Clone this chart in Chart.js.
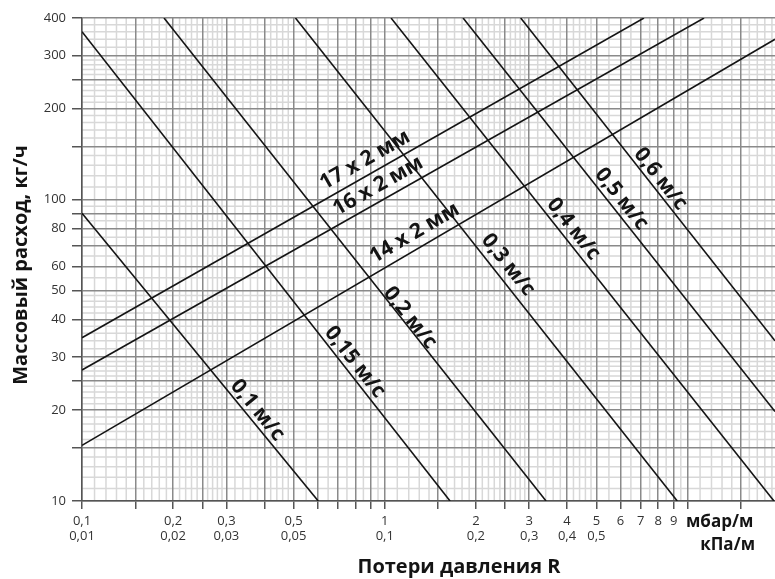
<!DOCTYPE html>
<html lang="ru">
<head>
<meta charset="utf-8">
<title>Потери давления R</title>
<script src="https://cdn.jsdelivr.net/npm/chart.js@4.4.1/dist/chart.umd.min.js"></script>
<style>
  html, body { margin: 0; padding: 0; background: #fff; }
  #wrap { width: 775px; height: 579px; }
</style>
</head>
<body>
<div id="wrap"><canvas id="chartCanvas" width="775" height="579"></canvas></div>
<script>
// --- data (R in mbar/m, mass flow in kg/h) ---
const pipeNames = ["17 x 2 мм", "16 x 2 мм", "14 x 2 мм"];
const pipeR = [[0.1, 7.18], [0.1, 11.34], [0.1, 19.45]];
const pipeM = [[34.8, 400], [27.2, 400], [15.3, 340]];

const speedNames = ["0,1 м/с", "0,15 м/с", "0,2 м/с", "0,3 м/с", "0,4 м/с", "0,5 м/с", "0,6 м/с"];
const speedR = [[0.1, 0.603], [0.1, 1.643], [0.1866, 3.41], [0.507, 9.25], [1.049, 19.3], [1.814, 19.45], [2.812, 19.45]];
const speedM = [[90, 10], [360, 10], [400, 10], [400, 10], [400, 10], [400, 19.8], [400, 34]];

// where the line captions sit (centre, in axis units)
const pipeLabelR = [0.861, 0.95, 1.254];
const pipeLabelM = [135.2, 110.9, 77.4];
const speedLabelR = [0.38, 0.797, 1.212, 2.553, 4.203, 6.053, 8.144];
const speedLabelM = [20.0, 28.9, 40.5, 60.7, 79.8, 100.4, 117.0];

// axes
const xMin = 0.1, xMax = 19.45;
const yMin = 10, yMax = 400;
const xMajor = [0.1, 0.15, 0.2, 0.25, 0.3, 0.4, 0.5, 0.6, 0.7, 0.8, 0.9, 1, 1.5, 2, 2.5, 3, 4, 5, 6, 7, 8, 9, 10, 15];
const yMajor = [10, 15, 20, 25, 30, 40, 50, 60, 70, 80, 90, 100, 150, 200, 250, 300, 400];
const xLabelVals = [0.1, 0.2, 0.3, 0.5, 1, 2, 3, 4, 5, 6, 7, 8, 9];
const mbarLabels = ["0,1", "0,2", "0,3", "0,5", "1", "2", "3", "4", "5", "6", "7", "8", "9"];
const kpaLabels = ["0,01", "0,02", "0,03", "0,05", "0,1", "0,2", "0,3", "0,4", "0,5", "", "", "", ""];
const yLabelVals = [10, 20, 30, 40, 50, 60, 80, 100, 200, 300, 400];

// light graph-paper lines inside every decade
const minorMantissa = [1.1, 1.2, 1.3, 1.4, 1.6, 1.7, 1.8, 1.9, 2.1, 2.2, 2.3, 2.4, 2.6, 2.7, 2.8, 2.9,
  3.2, 3.4, 3.6, 3.8, 4.2, 4.4, 4.6, 4.8, 5.5, 6.5, 7.5, 8.5, 9.5];
const xDecades = [0.1, 1, 10];
const yDecades = [10, 100];
const xMinor = xDecades.flatMap(d => minorMantissa.map(m => +(m * d).toFixed(4)));
const yMinor = yDecades.flatMap(d => minorMantissa.map(m => +(m * d).toFixed(4)));

const INK = "#141414";
const FONT = "'Open Sans', 'DejaVu Sans', sans-serif";

const datasets = [];
pipeNames.forEach((n, i) => datasets.push({
  label: n,
  data: pipeR[i].map((r, k) => ({ x: r, y: pipeM[i][k] })),
  caption: { x: pipeLabelR[i], y: pipeLabelM[i] }
}));
speedNames.forEach((n, i) => datasets.push({
  label: n,
  data: speedR[i].map((r, k) => ({ x: r, y: speedM[i][k] })),
  caption: { x: speedLabelR[i], y: speedLabelM[i] }
}));
datasets.forEach(d => Object.assign(d, {
  showLine: true, borderColor: INK, borderWidth: 1.6, pointRadius: 0, fill: false
}));

// minor grid under the major one
const minorGrid = {
  id: "minorGrid",
  beforeDraw(chart) {
    const { ctx, chartArea: a, scales: { x, y } } = chart;
    ctx.save();
    ctx.strokeStyle = "#d8d8d8";
    ctx.lineWidth = 1.5;
    ctx.beginPath();
    xMinor.filter(v => v > xMin && v < xMax).forEach(v => {
      const px = x.getPixelForValue(v);
      ctx.moveTo(px, a.top); ctx.lineTo(px, a.bottom);
    });
    yMinor.filter(v => v > yMin && v < yMax).forEach(v => {
      const py = y.getPixelForValue(v);
      ctx.moveTo(a.left, py); ctx.lineTo(a.right, py);
    });
    ctx.stroke();
    ctx.restore();
  }
};

// captions along the lines
const lineCaptions = {
  id: "lineCaptions",
  afterDatasetsDraw(chart) {
    const { ctx, scales: { x, y } } = chart;
    ctx.save();
    ctx.fillStyle = INK;
    ctx.font = "bold 21px " + FONT;
    ctx.textAlign = "center";
    ctx.textBaseline = "middle";
    chart.data.datasets.forEach(ds => {
      const p0 = ds.data[0], p1 = ds.data[ds.data.length - 1];
      const ang = Math.atan2(y.getPixelForValue(p1.y) - y.getPixelForValue(p0.y),
                             x.getPixelForValue(p1.x) - x.getPixelForValue(p0.x));
      const rot = ang > Math.PI / 2 ? ang - Math.PI : (ang < -Math.PI / 2 ? ang + Math.PI : ang);
      ctx.save();
      ctx.translate(x.getPixelForValue(ds.caption.x), y.getPixelForValue(ds.caption.y));
      ctx.rotate(rot);
      ctx.fillText(ds.label, 0, 0);
      ctx.restore();
    });
    ctx.restore();
  }
};

// units and axis titles
const axisTexts = {
  id: "axisTexts",
  afterDraw(chart) {
    const { ctx } = chart;
    ctx.save();
    ctx.fillStyle = INK;
    ctx.textBaseline = "middle";
    ctx.font = "bold 17px " + FONT;
    ctx.textAlign = "left";
    ctx.fillText("мбар/м", 686, 522);
    ctx.textAlign = "right";
    ctx.fillText("кПа/м", 755, 545);
    ctx.textAlign = "center";
    ctx.font = "bold 20px " + FONT;
    ctx.fillText("Потери давления R", 459, 567);
    ctx.translate(21, 265);
    ctx.rotate(-Math.PI / 2);
    ctx.fillText("Массовый расход, кг/ч", 0, 0);
    ctx.restore();
  }
};

new Chart(document.getElementById("chartCanvas"), {
  type: "scatter",
  data: { datasets },
  options: {
    responsive: false,
    animation: false,
    layout: { padding: { top: 18, right: 0, bottom: 0, left: 0 } },
    plugins: { legend: { display: false }, tooltip: { enabled: false } },
    scales: {
      x: {
        type: "logarithmic",
        min: xMin, max: xMax, bounds: "data",
        afterBuildTicks: s => { s.ticks = xMajor.map(v => ({ value: v })); },
        afterFit: s => { s.height = 78; },
        ticks: {
          autoSkip: false, maxRotation: 0, padding: 5, color: "#333",
          font: { family: FONT, size: 13, lineHeight: 1.15 },
          callback: v => {
            const i = xLabelVals.indexOf(v);
            if (i < 0) return "";
            return kpaLabels[i] ? [mbarLabels[i], kpaLabels[i]] : mbarLabels[i];
          }
        },
        grid: { color: "#8a8a8a", lineWidth: 1.5, tickLength: 8, tickColor: "#555" },
        border: { color: "#555", width: 1.5 }
      },
      y: {
        type: "logarithmic",
        min: yMin, max: yMax, bounds: "data",
        afterBuildTicks: s => { s.ticks = yMajor.map(v => ({ value: v })); },
        afterFit: s => { s.width = 82; },
        ticks: {
          autoSkip: false, padding: 6, color: "#333",
          font: { family: FONT, size: 13 },
          callback: v => yLabelVals.includes(v) ? String(v) : ""
        },
        grid: { color: "#8a8a8a", lineWidth: 1.5, tickLength: 10, tickColor: "#555" },
        border: { color: "#555", width: 1.5 }
      }
    }
  },
  plugins: [minorGrid, lineCaptions, axisTexts]
});
</script>
</body>
</html>
